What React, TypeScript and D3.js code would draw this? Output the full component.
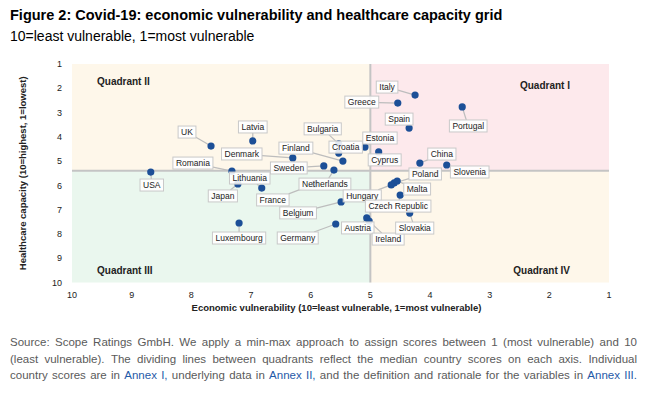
import { useEffect, useRef } from 'react';
import * as d3 from 'd3';

// country scores
const countries = [
  'Italy', 'Greece', 'Spain', 'Portugal', 'Estonia', 'Cyprus', 'Bulgaria', 'Croatia',
  'Finland', 'Denmark', 'Sweden', 'Netherlands', 'UK', 'Latvia', 'USA', 'Romania',
  'Japan', 'Lithuania', 'France', 'Belgium', 'Germany', 'Luxembourg', 'Austria', 'Ireland',
  'Poland', 'Malta', 'Hungary', 'Czech Republic', 'Slovakia', 'China', 'Slovenia',
];
const economicScore = [
  4.25, 4.54, 4.35, 3.46, 5.09, 4.86, 5.53, 5.53,
  5.46, 6.30, 5.78, 5.61, 7.67, 6.97, 8.68, 7.32,
  7.22, 6.82, 5.93, 5.49, 5.58, 7.20, 5.06, 5.02,
  4.60, 4.55, 4.65, 4.50, 4.34, 4.17, 3.72,
];
const healthScore = [
  2.28, 2.61, 3.64, 2.77, 4.42, 4.62, 4.29, 4.67,
  5.00, 4.87, 5.20, 5.37, 4.38, 4.17, 5.45, 5.41,
  5.94, 6.11, 5.94, 6.68, 7.59, 7.55, 7.34, 7.47,
  5.90, 5.82, 5.98, 6.40, 7.14, 5.08, 5.16,
];
const ticks = [10, 9, 8, 7, 6, 5, 4, 3, 2, 1];
const medianEconomic = 5.0;
const medianHealth = 5.4;

// label placement (pixel offset of label centre from its marker)
const labelOffset: Record<string, [number, number]> = {
  Italy: [-28, -8], Greece: [-36, -1], Spain: [-10, -9], Portugal: [6, 19],
  Estonia: [15, -9], Cyprus: [6, 8], Bulgaria: [-16, -15], Croatia: [7, -6],
  Finland: [-47, -13], Denmark: [-51, -4], Sweden: [-35, 2], Netherlands: [-9, 14],
  UK: [-24, -14], Latvia: [0, -14], USA: [1, 13], Romania: [-39, -8],
  Japan: [-15, 12], Lithuania: [-12, -10], France: [-42, 16], Belgium: [-43, 11],
  Germany: [-38, 14], Luxembourg: [0, 15], Austria: [-9, 10], Ireland: [19, 18],
  Poland: [31, -9], Malta: [20, 8], Hungary: [-29, 11], 'Czech Republic': [-2, 11],
  Slovakia: [5, 15], China: [22, -9], Slovenia: [23, 7],
};

const sourceLines = [
  [{ t: 'Source: Scope Ratings GmbH. We apply a min-max approach to assign scores between 1 (most vulnerable) and 10' }],
  [{ t: '(least vulnerable). The dividing lines between quadrants reflect the median country scores on each axis. Individual' }],
  [
    { t: 'country scores are in' }, { t: 'Annex I,', link: true }, { t: 'underlying data in' },
    { t: 'Annex II,', link: true }, { t: 'and the definition and rationale for the variables in' },
    { t: 'Annex III.', link: true },
  ],
];

const FONT = "'Liberation Sans', Arial, sans-serif";

const App = () => {
  const svgRef = useRef<SVGSVGElement>(null);

  useEffect(() => {
    document.body.style.margin = '0';
    const W = 647, H = 394;
    const svg = d3.select(svgRef.current).attr('width', W).attr('height', H);
    svg.selectAll('*').remove();
    svg.style('font-family', FONT);

    const left = 72, right = 609, top = 64, bottom = 282.5;
    const x = d3.scaleLinear().domain([10, 1]).range([left, right]);
    const y = d3.scaleLinear().domain([1, 10]).range([top, bottom]);

    // title
    svg.append('text').attr('x', 10).attr('y', 20).attr('font-size', 14.5).attr('font-weight', 'bold')
      .attr('fill', '#000').text('Figure 2: Covid-19: economic vulnerability and healthcare capacity grid');
    svg.append('text').attr('x', 10).attr('y', 41).attr('font-size', 14).attr('fill', '#000')
      .text('10=least vulnerable, 1=most vulnerable');

    // quadrants
    const mx = x(medianEconomic), my = y(medianHealth);
    const quads = [
      { x0: left, x1: mx, y0: top, y1: my, c: '#fef7ea' },
      { x0: mx, x1: right, y0: top, y1: my, c: '#fde9ec' },
      { x0: left, x1: mx, y0: my, y1: bottom, c: '#eaf7ee' },
      { x0: mx, x1: right, y0: my, y1: bottom, c: '#fef7ea' },
    ];
    svg.append('g').selectAll('rect').data(quads).enter().append('rect')
      .attr('x', d => d.x0).attr('y', d => d.y0)
      .attr('width', d => d.x1 - d.x0).attr('height', d => d.y1 - d.y0)
      .attr('fill', d => d.c);
    svg.append('line').attr('x1', mx).attr('x2', mx).attr('y1', top).attr('y2', bottom)
      .attr('stroke', '#c4c4c4').attr('stroke-width', 2);
    svg.append('line').attr('x1', left).attr('x2', right).attr('y1', my).attr('y2', my)
      .attr('stroke', '#c4c4c4').attr('stroke-width', 2);

    const qlab = [
      { t: 'Quadrant II', x: 97, y: 81, a: 'start' },
      { t: 'Quadrant I', x: 570, y: 85, a: 'end' },
      { t: 'Quadrant III', x: 97, y: 270, a: 'start' },
      { t: 'Quadrant IV', x: 570, y: 270, a: 'end' },
    ];
    svg.append('g').selectAll('text').data(qlab).enter().append('text')
      .attr('x', d => d.x).attr('y', d => d.y).attr('dy', '0.35em')
      .attr('text-anchor', d => d.a).attr('font-size', 10).attr('font-weight', 'bold')
      .attr('fill', '#222').text(d => d.t);

    // axes labels
    svg.append('g').selectAll('text').data(ticks).enter().append('text')
      .attr('x', 62).attr('y', d => y(d)).attr('dy', '0.35em').attr('text-anchor', 'end')
      .attr('font-size', 9).attr('fill', '#222').text(d => d);
    svg.append('g').selectAll('text').data(ticks).enter().append('text')
      .attr('x', d => x(d)).attr('y', 295).attr('dy', '0.35em').attr('text-anchor', 'middle')
      .attr('font-size', 9).attr('fill', '#222').text(d => d);
    svg.append('text').attr('x', (left + right) / 2 - 4).attr('y', 308).attr('dy', '0.35em')
      .attr('text-anchor', 'middle').attr('font-size', 9.5).attr('font-weight', 'bold').attr('fill', '#222')
      .text('Economic vulnerability (10=least vulnerable, 1=most vulnerable)');
    svg.append('text').attr('transform', `translate(23,${(top + bottom) / 2}) rotate(-90)`)
      .attr('dy', '0.35em').attr('text-anchor', 'middle').attr('font-size', 9.5)
      .attr('font-weight', 'bold').attr('fill', '#222')
      .text('Healthcare capacity (10=highest, 1=lowest)');

    // points + labels
    const pts = countries.map((name, i) => {
      const px = x(economicScore[i]), py = y(healthScore[i]);
      const [dx, dy] = labelOffset[name] || [0, -12];
      return { name, px, py, lx: px + dx, ly: py + dy };
    });

    const lineG = svg.append('g');
    const dotG = svg.append('g');
    const labG = svg.append('g');

    dotG.selectAll('circle').data(pts).enter().append('circle')
      .attr('cx', d => d.px).attr('cy', d => d.py).attr('r', 3.6)
      .attr('fill', '#1c4f97');

    pts.forEach(d => {
      const g = labG.append('g');
      const txt = g.append('text').attr('x', d.lx).attr('y', d.ly).attr('dy', '0.35em')
        .attr('text-anchor', 'middle').attr('font-size', 8.5).attr('fill', '#222').text(d.name);
      const w = (txt.node() as SVGTextElement).getComputedTextLength() + 6;
      const h = 12;
      g.insert('rect', 'text').attr('x', d.lx - w / 2).attr('y', d.ly - h / 2)
        .attr('width', w).attr('height', h)
        .attr('fill', '#ffffff').attr('fill-opacity', 0.88)
        .attr('stroke', '#c9c9c9').attr('stroke-width', 1);
      // leader from box edge to marker
      const vx = d.px - d.lx, vy = d.py - d.ly;
      const sx = vx === 0 ? Infinity : (w / 2) / Math.abs(vx);
      const sy = vy === 0 ? Infinity : (h / 2) / Math.abs(vy);
      const s = Math.min(sx, sy);
      if (s < 1) {
        lineG.append('line')
          .attr('x1', d.lx + vx * s).attr('y1', d.ly + vy * s)
          .attr('x2', d.px).attr('y2', d.py)
          .attr('stroke', '#bdbdbd').attr('stroke-width', 1.2);
      }
    });

    // source note, justified
    const fs = 11.5, x0 = 10, x1 = 637;
    const srcG = svg.append('g').attr('font-size', fs);
    sourceLines.forEach((segs, li) => {
      const words: { t: string; link?: boolean }[] = [];
      segs.forEach(s => s.t.split(' ').forEach(t => words.push({ t, link: s.link })));
      const yy = 346 + li * 16.5;
      const nodes = words.map(wd => srcG.append('text').attr('y', yy)
        .attr('fill', wd.link ? '#1f5aa8' : '#5a5a5a').text(wd.t));
      const widths = nodes.map(n => (n.node() as SVGTextElement).getComputedTextLength());
      const total = widths.reduce((a, b) => a + b, 0);
      const gap = (x1 - x0 - total) / (words.length - 1);
      let cx = x0;
      nodes.forEach((n, i) => { n.attr('x', cx); cx += widths[i] + gap; });
    });
  }, []);

  return <svg ref={svgRef} style={{ display: 'block' }}></svg>;
};

export default App;
